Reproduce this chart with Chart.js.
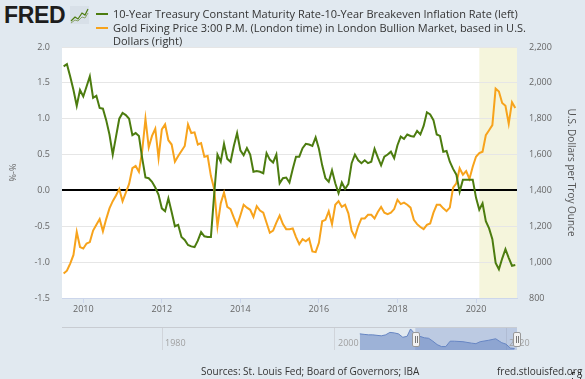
<!DOCTYPE html>
<html>
<head>
<meta charset="utf-8">
<script src="https://cdn.jsdelivr.net/npm/chart.js@4.4.1/dist/chart.umd.min.js"></script>
<style>
  body { margin: 0; background: #e1e9f0; font-family: 'Open Sans', sans-serif; }
  #wrap { position: relative; width: 585px; height: 379px; overflow: hidden; }
  #main { position: absolute; left: 0; top: 0; }
  #nav { position: absolute; left: 62px; top: 328px; }
  .logo { position: absolute; left: 4px; top: 2px; font-family: 'Liberation Sans', sans-serif; font-weight: bold; font-size: 23px; color: #1d1d1d; letter-spacing: -0.3px; }
  .logo-icon { position: absolute; left: 70px; top: 6px; }
  .legend { position: absolute; left: 96px; top: 7px; font-size: 11px; color: #333; line-height: 13.5px; z-index: 2; }
  .legend .row { position: relative; padding-left: 17px; white-space: nowrap; }
  .legend .sw { position: absolute; left: 0; top: 6px; width: 12px; height: 2px; }
  .navline { position: absolute; left: 62px; top: 327px; width: 455px; height: 1px; background: #c8ccd2; }
  .navlabel { position: absolute; top: 336px; font-size: 9px; color: #a0a0a0; }
  .handle { position: absolute; top: 332px; width: 6px; height: 13px; background: #f2f2f2; border: 1px solid #999; border-radius: 2px; }
  .handle:before, .handle:after { content: ''; position: absolute; top: 3px; width: 1px; height: 7px; background: #777; }
  .handle:before { left: 2px; } .handle:after { left: 4px; }
  .footer { position: absolute; top: 364px; font-size: 10px; color: #333; }
  .fs { position: absolute; left: 572px; top: 372px; width: 7px; height: 7px; border: 1px dashed #333; }
</style>
</head>
<body>
<div id="wrap">
  <div class="logo">FRED</div>
  <svg class="logo-icon" width="19" height="18" viewBox="0 0 19 18">
    <rect x="0" y="0" width="19" height="18" fill="#d8e0e8"/>
    <polyline points="1,15 5,11 8,13 12,7 15,9 18,3" fill="none" stroke="#4c7c0f" stroke-width="1.2"/>
    <polyline points="1,17 5,14 8,15 12,11 15,12 18,7" fill="none" stroke="#8aa36a" stroke-width="1"/>
  </svg>
  <canvas id="main" width="585" height="322"></canvas>
  <div class="legend">
    <div class="row"><span class="sw" style="background:#4c7c0f"></span>10-Year Treasury Constant Maturity Rate-10-Year Breakeven Inflation Rate (left)</div>
    <div class="row"><span class="sw" style="background:#f7a31c"></span>Gold Fixing Price 3:00 P.M. (London time) in London Bullion Market, based in U.S.<br>Dollars (right)</div>
  </div>
  <div class="navline"></div>
  <canvas id="nav" width="455" height="22"></canvas>
  <span class="navlabel" style="left:165px">1980</span>
  <span class="navlabel" style="left:338px">2000</span>
  <span class="navlabel" style="left:509px">2020</span>
  <div class="handle" style="left:412px"></div>
  <div class="handle" style="left:513px"></div>
  <div class="footer" style="left:201px">Sources: St. Louis Fed; Board of Governors; IBA</div>
  <div class="footer" style="left:497px">fred.stlouisfed.org</div>
  <div class="fs"></div>
</div>
<script>
// Monthly series, first month July 2009
const startYear = 2009;
const startMonth = 7;

// 10-Year Treasury minus 10-Year Breakeven (percent), one row per year
const realRate = [
  1.73, 1.76, 1.59, 1.40, 1.18, 1.40,
  1.31, 1.45, 1.59, 1.29, 1.32, 1.15, 1.14, 0.98, 0.78, 0.50, 0.75, 1.00,
  1.08, 1.05, 1.00, 0.77, 0.80, 0.76, 0.45, 0.18, 0.17, 0.12, 0.04, -0.06,
  -0.25, -0.29, -0.11, -0.30, -0.50, -0.48, -0.65, -0.69, -0.76, -0.78, -0.79, -0.70,
  -0.58, -0.64, -0.65, -0.65, -0.05, 0.50, 0.40, 0.65, 0.44, 0.40, 0.62, 0.80,
  0.56, 0.49, 0.59, 0.50, 0.26, 0.27, 0.26, 0.24, 0.52, 0.43, 0.39, 0.50,
  0.10, 0.17, 0.18, 0.11, 0.30, 0.47, 0.47, 0.59, 0.65, 0.64, 0.62, 0.74,
  0.58, 0.35, 0.17, 0.12, 0.28, 0.10, -0.04, 0.11, 0.02, 0.09, 0.38, 0.50,
  0.42, 0.38, 0.42, 0.38, 0.40, 0.58, 0.46, 0.35, 0.47, 0.50, 0.54, 0.45,
  0.63, 0.75, 0.72, 0.78, 0.76, 0.75, 0.83, 0.78, 0.90, 1.09, 1.06, 0.98,
  0.78, 0.76, 0.54, 0.55, 0.40, 0.30, 0.22, -0.02, 0.15, 0.15, 0.15, 0.15,
  -0.10, -0.27, -0.18, -0.43, -0.53, -0.68, -1.01, -1.10, -0.95, -0.82, -0.94, -1.05,
  -1.04
];

// Gold fixing price (USD per troy ounce)
const goldPrice = [
  936, 952, 992, 1040, 1168, 1084,
  1076, 1104, 1112, 1176, 1208, 1240, 1172, 1240, 1300, 1340, 1372, 1408,
  1340, 1388, 1436, 1524, 1536, 1504, 1620, 1800, 1640, 1704, 1744, 1580,
  1740, 1768, 1680, 1656, 1560, 1592, 1620, 1648, 1768, 1720, 1724, 1656,
  1664, 1588, 1592, 1480, 1408, 1200, 1328, 1388, 1308, 1296, 1248, 1204,
  1260, 1320, 1304, 1292, 1252, 1312, 1288, 1276, 1220, 1164, 1176, 1220,
  1260, 1212, 1184, 1184, 1188, 1140, 1100, 1128, 1116, 1132, 1060, 1056,
  1108, 1228, 1236, 1284, 1212, 1320, 1340, 1308, 1320, 1272, 1176, 1140,
  1200, 1244, 1244, 1264, 1264, 1244, 1280, 1308, 1276, 1268, 1276, 1296,
  1348, 1324, 1332, 1320, 1304, 1236, 1212, 1196, 1184, 1208, 1216, 1276,
  1320, 1320, 1300, 1284, 1304, 1416, 1440, 1524, 1488, 1508, 1464, 1532,
  1588, 1608, 1616, 1708, 1736, 1764, 1968, 1952, 1888, 1872, 1772, 1892,
  1860
];

const yearTicks = [2010, 2012, 2014, 2016, 2018, 2020];
const leftTicks = [-1.5, -1.0, -0.5, 0.0, 0.5, 1.0, 1.5, 2.0];
const rightTicks = [800, 1000, 1200, 1400, 1600, 1800, 2000, 2200];
const recession = [2020.085, 2021.044];

// navigator (full history of the left series, coarse)
const navYears = [2003, 2003.5, 2004, 2004.5, 2005, 2005.5, 2006, 2006.5, 2007, 2007.5, 2008, 2008.5, 2008.9, 2009.3, 2009.8, 2010.5, 2011, 2011.5, 2012, 2012.5, 2013, 2013.5, 2014, 2015, 2016, 2016.5, 2017, 2018, 2018.8, 2019.5, 2020, 2020.5, 2021];
const navValues = [2.0, 1.9, 1.8, 1.8, 1.7, 1.6, 1.8, 2.3, 2.2, 2.0, 1.3, 1.5, 3.0, 2.2, 1.6, 1.2, 1.1, 0.5, -0.2, -0.6, -0.6, 0.5, 0.5, 0.4, 0.1, 0.0, 0.4, 0.7, 1.0, 0.2, -0.1, -0.9, -1.0];
const navTicks = [1980, 2000, 2020];

const GREEN = '#4c7c0f';
const ORANGE = '#f7a31c';
const tickFont = { family: "'Open Sans', sans-serif", size: 9 };
const tickColor = '#666';

const xDates = realRate.map((_, i) => {
    const m = startMonth - 1 + i;
    return startYear + Math.floor(m / 12) + (m % 12) / 12;
});

const plotBg = {
    id: 'plotBg',
    beforeDraw(chart) {
        const { ctx, chartArea: a, scales } = chart;
        ctx.save();
        ctx.fillStyle = '#ffffff';
        ctx.fillRect(a.left, a.top, a.right - a.left, a.bottom - a.top);
        const x0 = scales.x.getPixelForValue(recession[0]);
        const x1 = Math.min(scales.x.getPixelForValue(recession[1]), a.right);
        ctx.fillStyle = '#f5f5dc';
        ctx.fillRect(x0, a.top, x1 - x0, a.bottom - a.top);
        ctx.restore();
    }
};

new Chart(document.getElementById('main'), {
    type: 'line',
    data: {
        datasets: [{
            label: '10-Year Treasury Constant Maturity Rate-10-Year Breakeven Inflation Rate (left)',
            data: realRate.map((v, i) => ({ x: xDates[i], y: v })),
            yAxisID: 'y',
            borderColor: GREEN,
            borderWidth: 2,
            pointRadius: 0,
            tension: 0
        }, {
            label: 'Gold Fixing Price 3:00 P.M. (London time) in London Bullion Market, based in U.S. Dollars (right)',
            data: goldPrice.map((v, i) => ({ x: xDates[i], y: v })),
            yAxisID: 'y1',
            borderColor: ORANGE,
            borderWidth: 2,
            pointRadius: 0,
            tension: 0
        }]
    },
    options: {
        responsive: false,
        animation: false,
        layout: { padding: { top: 47, left: 0, right: 0, bottom: 0 } },
        plugins: { legend: { display: false }, tooltip: { enabled: false } },
        scales: {
            x: {
                type: 'linear',
                min: 2009.458,
                max: 2021.044,
                afterBuildTicks: s => { s.ticks = yearTicks.map(v => ({ value: v })); },
                afterFit: s => { s.height = 24; },
                ticks: { font: tickFont, color: tickColor, padding: 1, maxRotation: 0, callback: v => String(v) },
                grid: { drawOnChartArea: false, tickLength: 5, color: '#ccd6eb' },
                border: { color: '#ccd6eb' }
            },
            y: {
                position: 'left',
                min: -1.5,
                max: 2,
                afterBuildTicks: s => { s.ticks = leftTicks.map(v => ({ value: v })); },
                afterFit: s => { s.width = 62; },
                ticks: { font: tickFont, color: tickColor, padding: 12, callback: v => v.toFixed(1) },
                grid: {
                    drawTicks: false,
                    color: c => c.tick && c.tick.value === 0 ? '#000000' : '#e6e6e6',
                    lineWidth: c => c.tick && c.tick.value === 0 ? 2 : 1
                },
                border: { display: false },
                title: { display: true, text: '%-%', font: tickFont, color: tickColor, padding: { top: 8, bottom: 0 } }
            },
            y1: {
                position: 'right',
                min: 800,
                max: 2200,
                afterBuildTicks: s => { s.ticks = rightTicks.map(v => ({ value: v })); },
                afterFit: s => { s.width = 68; },
                ticks: { font: tickFont, color: tickColor, padding: 12, callback: v => v.toLocaleString('en-US') },
                grid: { display: false, drawTicks: false },
                border: { display: false },
                title: { display: true, text: 'U.S. Dollars per Troy Ounce', font: { family: "'Open Sans', sans-serif", size: 10 }, color: '#555', padding: { top: 8, bottom: 0 } }
            }
        }
    },
    plugins: [plotBg]
});

// Navigator strip
const navExtras = {
    id: 'navExtras',
    beforeDatasetsDraw(chart) {
        const { ctx, chartArea: a, scales } = chart;
        ctx.save();
        ctx.strokeStyle = '#d0d4da';
        ctx.lineWidth = 1;
        navTicks.forEach(t => {
            const x = Math.round(scales.x.getPixelForValue(t)) + 0.5;
            ctx.beginPath();
            ctx.moveTo(x, a.top);
            ctx.lineTo(x, a.bottom);
            ctx.stroke();
        });
        ctx.restore();
    },
    afterDatasetsDraw(chart) {
        const { ctx, chartArea: a, scales } = chart;
        const x0 = scales.x.getPixelForValue(2009.458);
        ctx.save();
        ctx.fillStyle = 'rgba(102,133,194,0.3)';
        ctx.fillRect(x0, a.top, a.right - x0, a.bottom - a.top);
        ctx.restore();
    }
};

new Chart(document.getElementById('nav'), {
    type: 'line',
    data: {
        datasets: [{
            data: navValues.map((v, i) => ({ x: navYears[i], y: v })),
            borderColor: '#6685c2',
            borderWidth: 1,
            backgroundColor: 'rgba(102,133,194,0.55)',
            fill: 'start',
            pointRadius: 0,
            tension: 0
        }]
    },
    options: {
        responsive: false,
        animation: false,
        layout: { padding: 0 },
        plugins: { legend: { display: false }, tooltip: { enabled: false } },
        scales: {
            x: { type: 'linear', min: 1968.37, max: 2021.28, display: false },
            y: { min: -1.3, max: 3.2, display: false }
        }
    },
    plugins: [navExtras]
});
</script>
</body>
</html>
